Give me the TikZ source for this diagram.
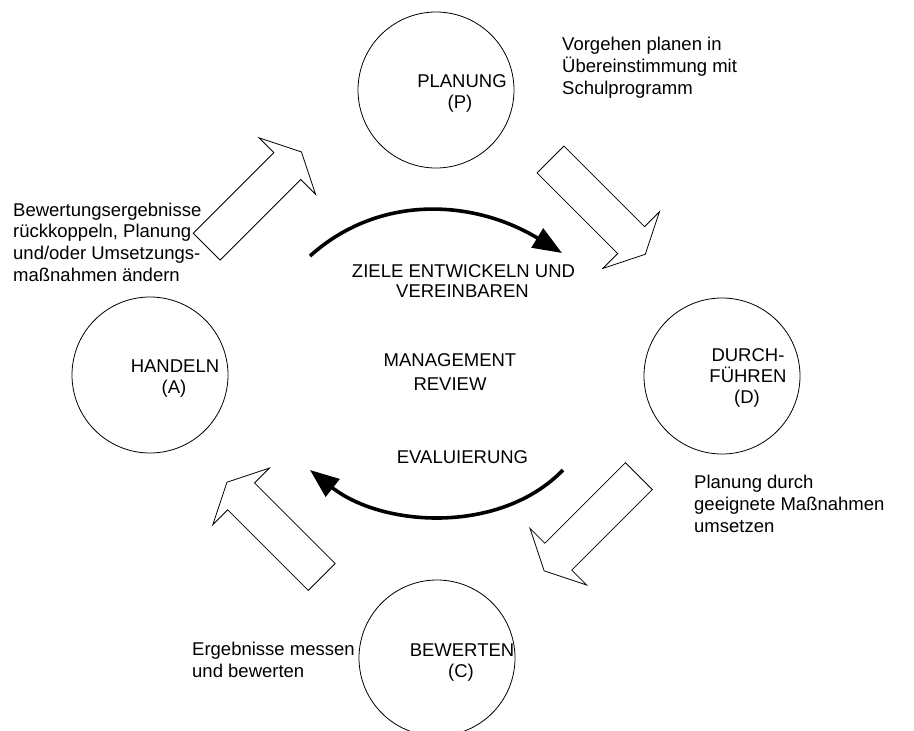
\documentclass[tikz,border=0pt]{standalone}
\usepackage{fontspec}
\setmainfont{Liberation Sans}
\usetikzlibrary{arrows.meta}
\begin{document}
\begin{tikzpicture}[x=1pt,y=-1pt,
  circ/.style={draw, circle, minimum size=156pt, inner sep=0pt, line width=0.8pt},
  lbl/.style={font=\fontsize{18.5}{21.5}\selectfont, inner sep=0pt, anchor=base},
  lblw/.style={font=\fontsize{18.5}{21.5}\selectfont, inner sep=0pt, anchor=base west},
  blk/.style={draw, fill=white, line width=0.8pt, line join=miter},
  boldarrow/.style={line width=3.6pt, -{Triangle[length=29pt,width=22pt]}}]
\useasboundingbox (0,0) rectangle (914,731);
\fill[white] (0,0) rectangle (914,731);

% circles
\node[circ] (P) at (436,90) {};
\node[circ] (D) at (722,376) {};
\node[circ] (C) at (437,658) {};
\node[circ] (A) at (150,375) {};

% circle labels
\node[lbl] (p1) at (462,87) {PLANUNG};
\node[lbl] (p2) at (460,108) {(P)};
\node[lbl] (d1) at (748,361) {DURCH-};
\node[lbl] (d2) at (748,382) {FÜHREN};
\node[lbl] (d3) at (747,403) {(D)};
\node[lbl] (c1) at (462,656) {BEWERTEN};
\node[lbl] (c2) at (461,677) {(C)};
\node[lbl] (a1) at (175,372) {HANDELN};
\node[lbl] (a2) at (174,393) {(A)};

% block arrows
\coordinate (ap) at (206.7,246.7);
\coordinate (pd) at (550.5,159.5);
\coordinate (dc) at (638.9,476.1);
\coordinate (ca) at (321.7,577);
\foreach \c/\ang in {ap/45, pd/-45, dc/-135, ca/135}{
  \begin{scope}[shift={(\c)}, rotate=\ang]
    \draw[blk] (0,-19) -- (114,-19) -- (114,-40) -- (134,0) -- (114,40) -- (114,19) -- (0,19) -- cycle;
  \end{scope}
}

% bold curved arrows
\coordinate (t0) at (310,256);
\coordinate (t1) at (562,253);
\draw[boldarrow] (t0) .. controls (380,193) and (475,200) .. (t1);
\coordinate (b0) at (563,470);
\coordinate (b1) at (310,470);
\draw[boldarrow] (b0) .. controls (500,535) and (382,527) .. (b1);

% center texts
\node[lbl] (z1) at (463.5,277) {ZIELE ENTWICKELN UND};
\node[lbl] (z2) at (462.5,297) {VEREINBAREN};
\node[lbl] (m1) at (450,366) {MANAGEMENT};
\node[lbl] (m2) at (450,390) {REVIEW};
\node[lbl] (ev) at (462.5,463) {EVALUIERUNG};

% side texts
\node[lblw] (v1) at (562,50) {Vorgehen planen in};
\node[lblw] (v2) at (562,72) {Übereinstimmung mit};
\node[lblw] (v3) at (562,94) {Schulprogramm};

\node[lblw] (l1) at (13,216) {Bewertungsergebnisse};
\node[lblw] (l2) at (13,237.7) {rückkoppeln, Planung};
\node[lblw] (l3) at (13,259.4) {und/oder Umsetzungs-};
\node[lblw] (l4) at (13,281) {maßnahmen ändern};

\node[lblw] (r1) at (694,488) {Planung durch};
\node[lblw] (r2) at (694,510) {geeignete Maßnahmen};
\node[lblw] (r3) at (694,532) {umsetzen};

\node[lblw] (e1) at (192,655) {Ergebnisse messen};
\node[lblw] (e2) at (192,677) {und bewerten};
\end{tikzpicture}
\end{document}
